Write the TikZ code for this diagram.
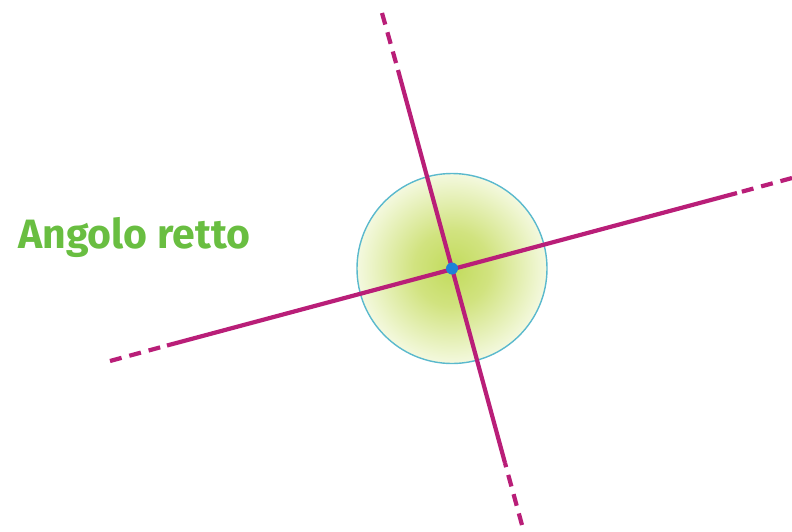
\documentclass[tikz,border=0pt]{standalone}
\usepackage{fontspec}
\setmainfont{Fira Sans}
\definecolor{lineM}{RGB}{185,30,120}
\definecolor{ringC}{RGB}{90,185,205}
\definecolor{dotB}{RGB}{30,130,215}
\definecolor{txtG}{RGB}{105,190,65}
\pgfdeclareradialshading{greenglow}{\pgfpoint{0bp}{0bp}}{%
  rgb(0bp)=(0.76,0.86,0.36);
  rgb(10bp)=(0.82,0.89,0.50);
  rgb(22bp)=(0.93,0.96,0.80);
  rgb(30bp)=(1,1,1);
  rgb(50bp)=(1,1,1)}
\tikzset{
  ray/.style={draw=lineM,line width=4.2pt},
  raydash/.style={ray,dash pattern=on 12pt off 8pt},
}
\begin{document}
\begin{tikzpicture}[x=1pt,y=-1pt]
\useasboundingbox (0,0) rectangle (792,531);
\coordinate (O) at (452,268.5);
% circle with radial shading
\shade[shading=greenglow] (O) circle (95);
\draw[ringC,line width=1.4pt] (O) circle (95);
% steep line
\coordinate (A1) at (382,13);
\coordinate (A2) at (398,70);
\coordinate (A3) at (505,463);
\coordinate (A4) at (522,525);
% shallow line
\coordinate (B1) at (110,361);
\coordinate (B2) at (167,345.5);
\coordinate (B3) at (737,193);
\coordinate (B4) at (792,178);
\draw[ray] (A2) -- (A3);
\draw[ray] (B2) -- (B3);
\draw[raydash] (A1) -- (A2);
\draw[raydash] (A4) -- (A3);
\draw[raydash] (B1) -- (B2);
\draw[raydash] (B4) -- (B3);
\fill[dotB] (O) circle (6);
\node[anchor=base west,inner sep=0pt,text=txtG,font=\bfseries\fontsize{41}{41}\selectfont] (lbl) at (18,248) {Angolo retto};
\end{tikzpicture}
\end{document}
